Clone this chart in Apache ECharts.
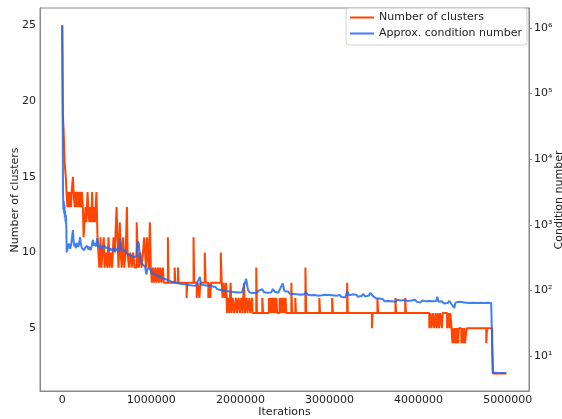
<!DOCTYPE html>
<html>
<head>
<meta charset="utf-8">
<script src="https://cdn.jsdelivr.net/npm/echarts@6/dist/echarts.min.js"></script>
<style>
  html, body { margin: 0; padding: 0; background: #fff; }
  #chart { width: 562px; height: 419px; }
</style>
</head>
<body>
<div id="chart"></div>
<script>
// tick labels
const xTicks = [0, 1000000, 2000000, 3000000, 4000000, 5000000];
const clusterTicks = [5, 10, 15, 20, 25];
const condTickExps = [1, 2, 3, 4, 5, 6];

// number of clusters (step changes: iteration -> value)
const clusterIters = [
  0, 8000, 16000, 26000, 40000, 48000, 58000, 66000, 78000, 86000, 98000, 106000,
  120000, 128000, 140000, 150000, 162000, 172000, 186000, 196000, 210000, 220000,
  232000, 240000, 250000, 262000, 272000, 284000, 292000, 304000, 314000, 326000,
  336000, 344000, 356000, 366000, 384000, 396000, 406000, 416000, 430000, 440000,
  452000, 466000, 476000, 490000, 506000, 520000, 532000, 548000, 560000, 576000,
  590000, 610000, 620000, 632000, 646000, 656000, 668000, 684000, 696000, 712000,
  726000, 734000, 748000, 764000, 780000, 796000, 812000, 836000, 846000, 860000,
  876000, 890000, 906000, 920000, 940000, 952000, 960000, 972000, 984000, 994000,
  1006000, 1020000, 1032000, 1046000, 1058000, 1074000, 1086000, 1100000, 1112000,
  1130000, 1140000, 1186000, 1194000, 1262000, 1270000, 1300000, 1306000, 1396000,
  1404000, 1474000, 1482000, 1510000, 1520000, 1540000, 1550000, 1600000, 1610000,
  1640000, 1650000, 1662000, 1670000, 1780000, 1790000, 1800000, 1812000, 1826000,
  1840000, 1850000, 1862000, 1876000, 1890000, 1900000, 1914000, 1930000, 1950000,
  1962000, 1980000, 1994000, 2010000, 2024000, 2040000, 2050000, 2070000, 2080000,
  2100000, 2110000, 2130000, 2138000, 2178000, 2186000, 2246000, 2254000, 2320000,
  2330000, 2340000, 2352000, 2362000, 2372000, 2384000, 2396000, 2404000, 2412000,
  2440000, 2452000, 2462000, 2474000, 2486000, 2496000, 2506000, 2516000, 2572000,
  2580000, 2616000, 2624000, 2730000, 2738000, 2886000, 2894000, 3030000, 3038000,
  3198000, 3206000, 3476000, 3484000, 3538000, 3546000, 3740000, 3748000, 3850000,
  3858000, 4120000, 4132000, 4146000, 4160000, 4176000, 4190000, 4204000, 4216000,
  4230000, 4242000, 4262000, 4270000, 4320000, 4332000, 4346000, 4356000, 4370000,
  4380000, 4392000, 4400000, 4410000, 4420000, 4432000, 4444000, 4452000, 4480000,
  4490000, 4500000, 4510000, 4520000, 4540000, 4760000, 4768000, 4826000, 4834000,
  4985000
];
const clusterVals = [
  25, 19, 18, 16, 15, 14, 13, 14, 13, 14, 13, 14,
  15, 14, 13, 14, 13, 14, 13, 14, 13, 14,
  13, 11, 12, 13, 12, 14, 13, 12, 13, 12,
  14, 12, 13, 12, 14, 11, 10, 9, 11, 9,
  10, 11, 9, 10, 9, 11, 9, 10, 9, 11,
  10, 13, 11, 9, 12, 10, 9, 11, 9, 10,
  13, 10, 9, 10, 9, 10, 9, 12, 10, 9,
  10, 9, 10, 11, 9, 11, 10, 9, 12, 9,
  8, 9, 8, 9, 8, 9, 8, 9, 8,
  9, 8, 11, 8, 9, 8, 9, 8, 7,
  8, 11, 8, 7, 8, 7, 8, 10, 8,
  7, 8, 7, 8, 10, 8, 7, 8, 7,
  8, 6, 7, 6, 8, 6, 7, 6, 7,
  6, 7, 6, 7, 6, 8, 6, 7, 6,
  7, 6, 7, 6, 9, 6, 7, 6, 7,
  6, 7, 6, 7, 6, 7, 6, 7, 6,
  7, 6, 7, 6, 7, 6, 7, 6, 8,
  6, 7, 6, 9, 6, 7, 6, 7, 6,
  8, 6, 5, 6, 7, 6, 7, 6, 7,
  6, 5, 6, 5, 6, 5, 6, 5, 6,
  5, 6, 5, 6, 5, 6, 5, 6, 5,
  4, 5, 4, 5, 4, 5, 4, 5, 4,
  5, 4, 5, 4, 5, 4, 5, 4, 2,
  2
];

// approx. condition number
const condIters = [
  0, 5000, 9000, 13000, 17000, 21000, 25000, 29000, 33000, 37000, 41000, 46000,
  50000, 58000, 66000, 74000, 82000, 90000, 100000, 110000, 120000, 128000, 136000,
  144000, 152000, 160000, 170000, 180000, 190000, 200000, 210000, 222000, 234000,
  246000, 258000, 270000, 282000, 294000, 306000, 318000, 330000, 345000, 356000,
  368000, 380000, 392000, 404000, 416000, 428000, 440000, 452000, 464000, 476000,
  488000, 500000, 514000, 528000, 542000, 556000, 570000, 584000, 598000, 612000,
  626000, 640000, 652000, 664000, 678000, 692000, 706000, 720000, 734000, 748000,
  762000, 776000, 790000, 804000, 818000, 832000, 846000, 860000, 874000, 888000,
  902000, 916000, 930000, 944000, 958000, 972000, 986000, 1000000, 1015000, 1030000,
  1045000, 1060000, 1080000, 1100000, 1120000, 1140000, 1160000, 1180000, 1200000,
  1220000, 1240000, 1260000, 1280000, 1300000, 1320000, 1340000, 1360000, 1380000,
  1400000, 1420000, 1440000, 1460000, 1480000, 1500000, 1520000, 1545000, 1560000,
  1580000, 1600000, 1620000, 1640000, 1660000, 1680000, 1700000, 1720000, 1740000,
  1760000, 1780000, 1800000, 1820000, 1840000, 1860000, 1880000, 1900000, 1920000,
  1940000, 1960000, 1980000, 2000000, 2020000, 2040000, 2065000, 2085000, 2105000,
  2125000, 2145000, 2165000, 2185000, 2205000, 2225000, 2245000, 2265000, 2285000,
  2305000, 2325000, 2345000, 2365000, 2385000, 2405000, 2425000, 2445000, 2475000,
  2495000, 2515000, 2535000, 2555000, 2575000, 2595000, 2615000, 2635000, 2655000,
  2675000, 2695000, 2715000, 2735000, 2755000, 2775000, 2795000, 2815000, 2835000,
  2855000, 2875000, 2895000, 2915000, 2935000, 2955000, 2975000, 2995000, 3015000,
  3035000, 3055000, 3075000, 3095000, 3115000, 3135000, 3155000, 3175000, 3200000,
  3220000, 3240000, 3260000, 3280000, 3300000, 3320000, 3340000, 3360000, 3380000,
  3400000, 3420000, 3440000, 3460000, 3480000, 3500000, 3520000, 3540000, 3560000,
  3580000, 3600000, 3620000, 3640000, 3660000, 3680000, 3700000, 3720000, 3740000,
  3760000, 3780000, 3800000, 3820000, 3840000, 3860000, 3880000, 3900000, 3920000,
  3940000, 3960000, 3980000, 4000000, 4020000, 4040000, 4060000, 4080000, 4100000,
  4120000, 4140000, 4160000, 4180000, 4200000, 4210000, 4225000, 4245000, 4265000,
  4285000, 4305000, 4325000, 4345000, 4365000, 4385000, 4400000, 4415000, 4435000,
  4455000, 4475000, 4495000, 4515000, 4535000, 4555000, 4575000, 4595000, 4615000,
  4635000, 4655000, 4675000, 4695000, 4715000, 4735000, 4755000, 4775000, 4795000,
  4815000, 4826000, 4834000, 4900000, 4985000
];
const condVals = [
  1100000, 45000, 3200, 1700, 2300, 1500, 2000, 1300, 1600, 1100, 1400, 900,
  380, 420, 470, 520, 470, 430, 500, 640, 830, 560, 470,
  520, 440, 490, 530, 460, 520, 650, 500, 440, 470,
  410, 450, 420, 480, 420, 460, 410, 470, 590, 480,
  520, 470, 620, 470, 440, 470, 420, 460, 430, 480,
  440, 420, 455, 410, 440, 400, 430, 395, 440, 410,
  430, 400, 620, 430, 400, 385, 410, 370, 390, 350,
  370, 340, 360, 320, 340, 330, 560, 520, 300, 270,
  250, 260, 230, 175, 215, 205, 215, 190, 200, 178,
  185, 170, 176, 160, 165, 150, 155, 145, 150,
  137, 142, 132, 138, 128, 135, 125, 131, 124,
  129, 121, 127, 119, 125, 118, 123, 160, 122,
  115, 120, 112, 118, 110, 116, 109, 113, 104,
  110, 101, 106, 99, 105, 97, 103, 95, 101,
  94, 99, 93, 98, 94, 100, 150, 101, 93,
  98, 91, 97, 92, 99, 93, 104, 94, 100,
  92, 98, 93, 105, 95, 100, 92, 98, 128,
  97, 91, 96, 89, 94, 88, 93, 87, 92,
  86, 91, 87, 94, 86, 90, 84, 89, 85,
  88, 83, 87, 84, 82, 86, 81, 85, 80,
  84, 79, 83, 80, 85, 79, 82, 78, 96,
  84, 80, 87, 82, 86, 80, 85, 82, 88,
  81, 86, 83, 92, 84, 79, 76, 72, 75,
  70, 73, 68, 72, 69, 74, 68, 71, 67,
  72, 68, 70, 66, 71, 67, 69, 65, 70,
  66, 72, 67, 69, 65, 70, 66, 68, 64,
  69, 66, 68, 64, 69, 80, 67, 64, 68,
  63, 67, 64, 69, 63, 66, 54, 65, 62,
  67, 63, 66, 62, 65, 61, 64, 62, 65,
  61, 64, 62, 65, 61, 64, 62, 65, 62,
  64, 63, 5.6, 5.5, 5.5
];

const SUP = { 1: '\u00b9', 2: '\u00b2', 3: '\u00b3', 4: '\u2074', 5: '\u2075', 6: '\u2076' };
const FONT = 'DejaVu Sans';
const orange = '#ff4500';
const blue = 'rgba(30,105,245,0.85)';

const clusterData = clusterIters.map((it, i) => [it, clusterVals[i]]);
const condData = condIters.map((it, i) => [it, Math.log10(condVals[i])]);

const axisLineStyle = { show: true, onZero: false, lineStyle: { color: '#888', width: 1 } };
const labelStyle = { fontFamily: FONT, fontSize: 11, color: '#222' };

// vertical axis titles, placed by hand
function sideTitle(text, x) {
  return {
    type: 'text',
    x: x, y: 200,
    rotation: Math.PI / 2,
    style: {
      text: text,
      fontFamily: FONT, fontSize: 11, fill: '#222',
      align: 'center', verticalAlign: 'middle',
      textAlign: 'center', textVerticalAlign: 'middle'
    }
  };
}

const option = {
  animation: false,
  textStyle: { fontFamily: FONT },
  grid: {
    left: 40, right: 33, top: 8, bottom: 28,
    containLabel: false, outerBoundsMode: 'none',
    show: true, borderColor: '#888', borderWidth: 1
  },
  legend: {
    data: ['Number of clusters', 'Approx. condition number'],
    orient: 'vertical',
    right: 35, top: 8,
    icon: 'rect',
    itemWidth: 24, itemHeight: 2, itemGap: 3,
    padding: [3, 5, 5, 4],
    borderColor: '#d0d0d0', borderWidth: 1, borderRadius: 3,
    backgroundColor: 'rgba(255,255,255,0.8)',
    textStyle: Object.assign({ lineHeight: 13 }, labelStyle)
  },
  graphic: [
    sideTitle('Number of clusters', 15),
    sideTitle('Condition number', 559)
  ],
  xAxis: {
    type: 'value',
    min: -249500, max: 5239500,
    name: 'Iterations', nameLocation: 'middle', nameGap: 16, nameMoveOverlap: false,
    nameTextStyle: labelStyle,
    axisLine: axisLineStyle,
    axisTick: { show: false },
    splitLine: { show: false },
    axisLabel: Object.assign({
      customValues: xTicks, margin: 4,
      formatter: v => String(v)
    }, labelStyle)
  },
  yAxis: [
    {
      type: 'value', position: 'left',
      min: 0.85, max: 26.15,
      axisLine: axisLineStyle,
      axisTick: { show: false },
      splitLine: { show: false },
      axisLabel: Object.assign({ customValues: clusterTicks, margin: 4 }, labelStyle)
    },
    {
      type: 'value', position: 'right',
      min: 0.466, max: 6.305,
      axisLine: axisLineStyle,
      axisTick: { show: true, customValues: condTickExps, length: 3, lineStyle: { color: '#888' } },
      splitLine: { show: false },
      axisLabel: Object.assign({
        customValues: condTickExps, margin: 5,
        formatter: v => '10' + SUP[Math.round(v)]
      }, labelStyle)
    }
  ],
  series: [
    {
      name: 'Number of clusters',
      type: 'line',
      step: 'end',
      yAxisIndex: 0,
      data: clusterData,
      symbol: 'none',
      lineStyle: { color: orange, width: 2 },
      itemStyle: { color: orange }
    },
    {
      name: 'Approx. condition number',
      type: 'line',
      yAxisIndex: 1,
      data: condData,
      symbol: 'none',
      lineStyle: { color: blue, width: 2 },
      itemStyle: { color: blue }
    }
  ]
};

const myChart = echarts.init(document.getElementById('chart'));
myChart.setOption(option, true);
</script>
</body>
</html>
